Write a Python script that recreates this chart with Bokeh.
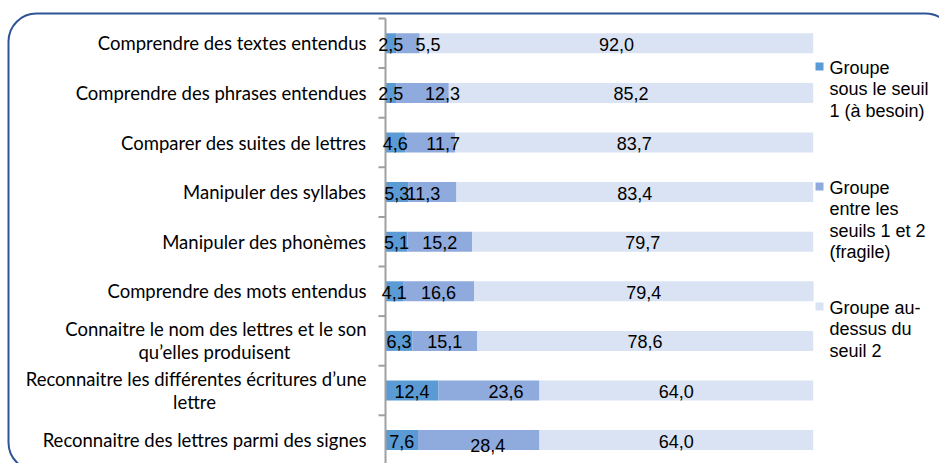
from bokeh.plotting import figure
from bokeh.models import Range1d, ColumnDataSource, BoxAnnotation
from bokeh.core.properties import value
from bokeh.embed import file_html
from bokeh.resources import INLINE

# ---- data ----
categories = [
    "Comprendre des textes entendus",
    "Comprendre des phrases entendues",
    "Comparer des suites de lettres",
    "Manipuler des syllabes",
    "Manipuler des phonèmes",
    "Comprendre des mots entendus",
    "Connaitre le nom des lettres et le son\nqu\u2019elles produisent",
    "Reconnaitre les différentes écritures d\u2019une\nlettre",
    "Reconnaitre des lettres parmi des signes",
]
sous_seuil1 = [2.5, 2.5, 4.6, 5.3, 5.1, 4.1, 6.3, 12.4, 7.6]
entre_seuils = [5.5, 12.3, 11.7, 11.3, 15.2, 16.6, 15.1, 23.6, 28.4]
dessus_seuil2 = [92.0, 85.2, 83.7, 83.4, 79.7, 79.4, 78.6, 64.0, 64.0]
series_names = [
    "Groupe\nsous le seuil\n1 (à besoin)",
    "Groupe\nentre les\nseuils 1 et 2\n(fragile)",
    "Groupe au-\ndessus du\nseuil 2",
]
colors = ["#5B9BD5", "#8FAADC", "#DAE3F3"]

# ---- layout constants (pixels, page coordinates) ----
W, H = 939, 463
X0 = 385.0          # pixel of value 0
S = 4.277           # pixels per percent
TOP = 18.0          # pixel of top of first band
BAND = 49.6         # pixels per category band
# manual nudges of the middle-series data labels (screen px), as in the original
mid_dx = [20, 20, 13, -9, 0, 0, 0, 17, 9]
mid_dy = [1, 1, 1, 1, 1, 1, 1, 1, 5]

def px_x(px):
    return (px - X0) / S

def px_y(py):
    return (py - TOP) / BAND

p = figure(width=W, height=H, output_backend="svg", toolbar_location=None,
           x_range=Range1d(px_x(0), px_x(W)),
           y_range=Range1d(px_y(H), px_y(0)),
           x_axis_location=None, y_axis_location=None,
           min_border=0, min_border_left=0, min_border_right=0,
           min_border_top=0, min_border_bottom=0)
p.outline_line_color = None
p.xgrid.visible = False
p.ygrid.visible = False
p.background_fill_color = "white"
p.border_fill_color = "white"

n = len(categories)
ypos = [i + 0.5 for i in range(n)]
left1 = [0.0] * n
right1 = sous_seuil1
left2 = sous_seuil1
right2 = [a + b for a, b in zip(sous_seuil1, entre_seuils)]
left3 = right2
right3 = [a + b for a, b in zip(right2, dessus_seuil2)]

bar_h = 20.0 / BAND
segs = [(left1, right1, sous_seuil1, colors[0], [0] * n, [1] * n),
        (left2, right2, entre_seuils, colors[1], mid_dx, mid_dy),
        (left3, right3, dessus_seuil2, colors[2], [0] * n, [1] * n)]
sources = []
for lft, rgt, vals, col, dx, dy in segs:
    src = ColumnDataSource(dict(y=ypos, left=lft, right=rgt,
                                mid=[(a + b) / 2 for a, b in zip(lft, rgt)],
                                lab=[f"{v:.1f}".replace(".", ",") for v in vals],
                                dx=dx, dy=dy))
    sources.append(src)
    p.hbar(y="y", left="left", right="right", height=bar_h, source=src,
           fill_color=col, line_color=None)

# axis line and ticks
p.segment(x0=[0], y0=[px_y(TOP)], x1=[0], y1=[px_y(H + 20)],
          line_color="#A0A0A0", line_width=2)
ticks = list(range(n + 1))
p.segment(x0=[px_x(X0 - 7)] * len(ticks), y0=ticks, x1=[0] * len(ticks), y1=ticks,
          line_color="#A0A0A0", line_width=2)

for src in sources:
    p.text(x="mid", y="y", text="lab", source=src, x_offset="dx", y_offset="dy",
           text_align="center", text_baseline="middle",
           text_font=value("Liberation Sans"), text_font_size="18px",
           text_color="#000000")

# category labels
label_right = px_x(366)
centers_2line = {6: px_x(214), 7: px_x(194)}
lx, ly, lt, ax, ay, at = [], [], [], [], [], []
for i, c in enumerate(categories):
    lines = c.split("\n")
    if len(lines) == 1:
        lx.append(label_right); ly.append(ypos[i]); lt.append(c)
    else:
        off = 11.5 / BAND
        lx.append(label_right); ly.append(ypos[i] - off); lt.append(lines[0])
        ax.append(centers_2line[i]); ay.append(ypos[i] + off); at.append(lines[1])
p.text(x=lx, y=ly, text=lt, text_align="right", text_baseline="middle",
       text_font=value("Lato"), text_font_size="18.5px", text_color="#000000")
p.text(x=ax, y=ay, text=at, text_align="center", text_baseline="middle",
       text_font=value("Lato"), text_font_size="18.5px", text_color="#000000")

# legend
leg_sq_y = [66, 186, 306]
for k, name in enumerate(series_names):
    p.scatter(x=[px_x(819)], y=[px_y(leg_sq_y[k])], marker="square", size=8,
              fill_color=colors[k], line_color=None)
    for j, line in enumerate(name.split("\n")):
        p.text(x=[px_x(829)], y=[px_y(leg_sq_y[k] + 1 + 21.5 * j)], text=[line],
               text_align="left", text_baseline="middle",
               text_font=value("Liberation Sans"), text_font_size="18px",
               text_color="#000000")

# rounded frame
p.add_layout(BoxAnnotation(left=px_x(8), right=px_x(953), top=px_y(13), bottom=px_y(470),
                           fill_alpha=0, line_color="#2F5597", line_alpha=1.0,
                           line_width=2, border_radius=28))

open("out.html", "w").write(file_html(p, INLINE))
